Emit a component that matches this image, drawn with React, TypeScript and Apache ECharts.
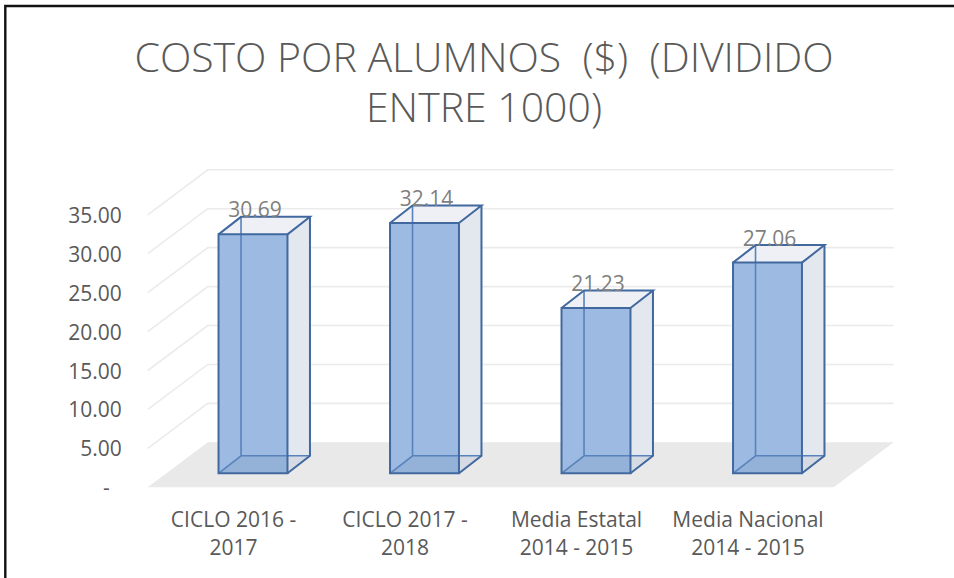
import React, { useEffect, useRef } from "react";
import * as echarts from "echarts";

const categories = [
  "CICLO 2016 -\n2017",
  "CICLO 2017 -\n2018",
  "Media Estatal\n2014 - 2015",
  "Media Nacional\n2014 - 2015",
];
const values = [30.69, 32.14, 21.23, 27.06];
const yTicks = [0, 5, 10, 15, 20, 25, 30, 35];
const titleLines = ["COSTO POR ALUMNOS  ($)  (DIVIDIDO", "ENTRE 1000)"];

const FONT = "'Open Sans', 'Noto Sans', sans-serif";
// perspective offsets (pixels)
const BAR_D = [22.5, -17.5];
const FLOOR_FRONT = [-19.5, 14];
const BACK = [40.5, -31];

const GRID = { left: 167.25, right: 100.75, top: 200.8, bottom: 104.7 };

export default function App() {
  const ref = useRef<HTMLDivElement>(null);
  useEffect(() => {
    if (!ref.current) return;
    const chart = echarts.init(ref.current, null, { renderer: "svg" });

    const renderBackground = (params: any, api: any) => {
      const cs = params.coordSys;
      const gL = cs.x;
      const gR = cs.x + cs.width;
      const y0 = api.coord([0, 0])[1];
      const children: any[] = [];
      children.push({
        type: "polygon",
        shape: {
          points: [
            [gL + FLOOR_FRONT[0], y0 + FLOOR_FRONT[1]],
            [gR + FLOOR_FRONT[0], y0 + FLOOR_FRONT[1]],
            [gR + BACK[0], y0 + BACK[1]],
            [gL + BACK[0], y0 + BACK[1]],
          ],
        },
        style: { fill: "#e9e9e9" },
      });
      yTicks.forEach((t) => {
        if (t === 0) return;
        const y = api.coord([0, t])[1];
        children.push({
          type: "polyline",
          shape: {
            points: [
              [gL + FLOOR_FRONT[0], y + FLOOR_FRONT[1]],
              [gL + BACK[0], y + BACK[1]],
              [gR + BACK[0], y + BACK[1]],
            ],
          },
          style: { fill: "none", stroke: "#ebebeb", lineWidth: 1.6 },
        });
      });
      return { type: "group", children };
    };

    const renderBar = (params: any, api: any) => {
      const idx = api.value(0);
      const v = api.value(1);
      const top = api.coord([idx, v]);
      const base = api.coord([idx, 0]);
      const band = api.size([1, 0])[0];
      const w = band * 0.402;
      const L = top[0] - w / 2;
      const R = top[0] + w / 2;
      const yT = top[1];
      const yB = base[1];
      const dx = BAR_D[0];
      const dy = BAR_D[1];
      const edge = { stroke: "#41699f", lineWidth: 2, fill: "none" };
      const hidden = { stroke: "#5782bb", lineWidth: 1.6, fill: "none" };
      const children: any[] = [
        {
          type: "polygon",
          shape: { points: [[R, yT], [R + dx, yT + dy], [R + dx, yB + dy], [R, yB]] },
          style: { fill: "#e3e7ee" },
        },
        {
          type: "polygon",
          shape: { points: [[L, yT], [L + dx, yT + dy], [R + dx, yT + dy], [R, yT]] },
          style: { fill: "#eef0f5" },
        },
        {
          type: "rect",
          shape: { x: L, y: yT, width: w, height: yB - yT },
          style: { fill: "#9dbbe2" },
        },
        {
          type: "polygon",
          shape: { points: [[L, yB], [L + dx, yB + dy], [R + dx, yB + dy], [R, yB]] },
          style: { fill: "rgba(40,60,90,0.07)" },
        },
        { type: "line", shape: { x1: L + dx, y1: yT + dy, x2: L + dx, y2: yB + dy }, style: hidden },
        { type: "line", shape: { x1: L + dx, y1: yB + dy, x2: R + dx, y2: yB + dy }, style: hidden },
        { type: "line", shape: { x1: L, y1: yB, x2: L + dx, y2: yB + dy }, style: hidden },
        {
          type: "polygon",
          shape: { points: [[L, yT], [R, yT], [R, yB], [L, yB]] },
          style: edge,
        },
        {
          type: "polyline",
          shape: { points: [[L, yT], [L + dx, yT + dy], [R + dx, yT + dy], [R, yT]] },
          style: edge,
        },
        {
          type: "polyline",
          shape: { points: [[R + dx, yT + dy], [R + dx, yB + dy], [R, yB]] },
          style: edge,
        },
        {
          type: "text",
          x: top[0] + 2,
          y: yT - 25,
          style: {
            text: v.toFixed(2),
            textAlign: "center",
            verticalAlign: "middle",
            textVerticalAlign: "middle",
            fontSize: 21,
            fontFamily: FONT,
            fill: "#7f7f7f",
          },
        },
      ];
      return { type: "group", children };
    };

    const option: any = {
      animation: false,
      backgroundColor: "#ffffff",
      graphic: [
        {
          type: "rect",
          shape: { x: 5.3, y: 6, width: 980, height: 620 },
          style: { fill: "none", stroke: "#111", lineWidth: 2.4 },
          z: 100,
        },
        {
          type: "text",
          x: 484,
          y: 81,
          style: {
            text: titleLines.join("\n"),
            textAlign: "center",
            textVerticalAlign: "middle",
            verticalAlign: "middle",
            fontSize: 41,
            lineHeight: 50,
            fontWeight: 300,
            fontFamily: FONT,
            fill: "#595959",
          },
        },
      ],
      grid: [
        { ...GRID },
        {
          left: GRID.left + FLOOR_FRONT[0],
          right: GRID.right - FLOOR_FRONT[0],
          top: GRID.top + FLOOR_FRONT[1],
          bottom: GRID.bottom - FLOOR_FRONT[1],
        },
      ],
      xAxis: [
        { type: "category", data: categories, gridIndex: 0, show: false },
        {
          type: "category",
          data: categories,
          gridIndex: 1,
          axisLine: { show: false },
          axisTick: { show: false },
          axisLabel: {
            margin: 18,
            fontSize: 21,
            lineHeight: 28,
            fontFamily: FONT,
            color: "#595959",
            interval: 0,
          },
        },
      ],
      yAxis: [
        { type: "value", min: 0, max: 35, interval: 5, gridIndex: 0, show: false },
        {
          type: "value",
          min: 0,
          max: 35,
          interval: 5,
          gridIndex: 1,
          axisLine: { show: false },
          axisTick: { show: false },
          splitLine: { show: false },
          axisLabel: {
            margin: 26,
            fontSize: 21,
            fontFamily: FONT,
            color: "#595959",
            formatter: (v: number) => (v === 0 ? "{d|-}" : v.toFixed(2)),
            rich: {
              d: { fontSize: 21, fontFamily: FONT, color: "#595959", padding: [0, 12, 0, 0] },
            },
          },
        },
      ],
      series: [
        {
          type: "custom",
          xAxisIndex: 0,
          yAxisIndex: 0,
          renderItem: renderBackground,
          data: [[0, 0]],
          clip: false,
          silent: true,
          z: 1,
        },
        {
          type: "custom",
          xAxisIndex: 0,
          yAxisIndex: 0,
          renderItem: renderBar,
          data: values.map((v, i) => [i, v]),
          encode: { x: 0, y: 1 },
          clip: false,
          z: 2,
        },
      ],
    };
    chart.setOption(option);
    return () => chart.dispose();
  }, []);
  return (
    <div
      ref={ref}
      style={{ position: "absolute", left: 0, top: 0, width: 954, height: 578 }}
    />
  );
}
